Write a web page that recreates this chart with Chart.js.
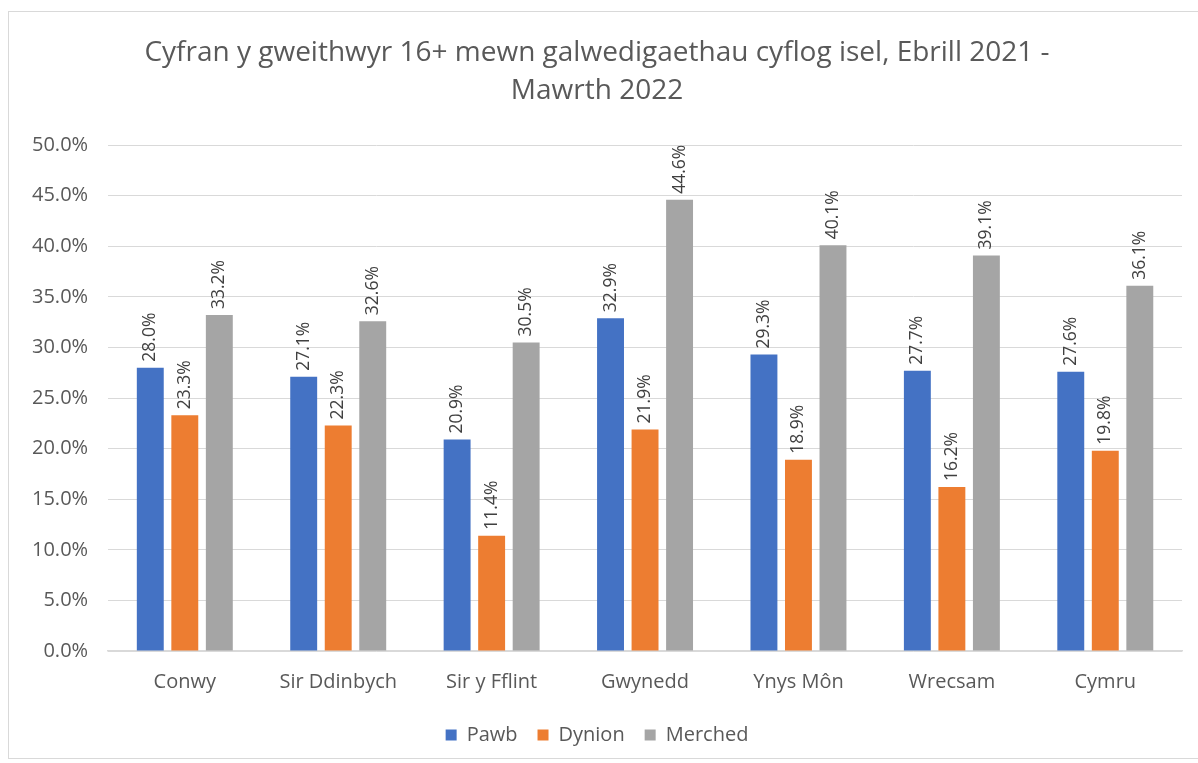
<!DOCTYPE html>
<html>
<head>
<meta charset="utf-8">
<script src="https://cdn.jsdelivr.net/npm/chart.js@4/dist/chart.umd.min.js"></script>
<style>
  html, body { margin: 0; padding: 0; background: #fff; overflow: hidden; }
  #wrap { position: absolute; left: 8px; top: 11px; width: 1195px; height: 748px; border: 1px solid #D9D9D9; box-sizing: border-box; }
  canvas { display: block; }
</style>
</head>
<body>
<div id="wrap"><canvas id="myChart"></canvas></div>
<script>
var categories = ['Conwy', 'Sir Ddinbych', 'Sir y Fflint', 'Gwynedd', 'Ynys Môn', 'Wrecsam', 'Cymru'];
var pawb = [28.0, 27.1, 20.9, 32.9, 29.3, 27.7, 27.6];
var dynion = [23.3, 22.3, 11.4, 21.9, 18.9, 16.2, 19.8];
var merched = [33.2, 32.6, 30.5, 44.6, 40.1, 39.1, 36.1];

var textColor = '#595959';
var fontName = "'Open Sans', 'Noto Sans', sans-serif";

// draws the rotated value above each bar
const barLabels = {
  id: 'barLabels',
  afterDatasetsDraw(chart) {
    const ctx = chart.ctx;
    ctx.save();
    ctx.fillStyle = '#404040';
    ctx.font = '17.5px ' + fontName;
    ctx.textAlign = 'left';
    ctx.textBaseline = 'middle';
    chart.data.datasets.forEach(function(ds, i) {
      const meta = chart.getDatasetMeta(i);
      meta.data.forEach(function(bar, j) {
        ctx.save();
        ctx.translate(bar.x, bar.y - 6);
        ctx.rotate(-Math.PI / 2);
        ctx.fillText(ds.data[j].toFixed(1) + '%', 0, 0);
        ctx.restore();
      });
    });
    ctx.restore();
  }
};

var data = {
  labels: categories,
  datasets: [{
    label: 'Pawb',
    data: pawb,
    backgroundColor: '#4472C4'
  },
  {
    label: 'Dynion',
    data: dynion,
    backgroundColor: '#ED7D31'
  },
  {
    label: 'Merched',
    data: merched,
    backgroundColor: '#A5A5A5'
  }]
};

const config = {
  type: 'bar',
  data: data,
  plugins: [barLabels],
  options: {
    responsive: true,
    maintainAspectRatio: false,
    animation: false,
    categoryPercentage: 0.675,
    barPercentage: 0.78,
    layout: { padding: { left: 3, right: 20, top: 0, bottom: 3 } },
    plugins: {
      title: {
        display: true,
        text: ['Cyfran y gweithwyr 16+ mewn galwedigaethau cyflog isel, Ebrill 2021 -', 'Mawrth 2022'],
        color: textColor,
        font: { size: 28, family: fontName, weight: 'normal', lineHeight: 1.36 },
        padding: { top: 22, bottom: 35 }
      },
      legend: {
        position: 'bottom',
        labels: {
          color: textColor,
          font: { size: 20, family: fontName },
          boxWidth: 11,
          boxHeight: 11,
          padding: 20
        }
      },
      tooltip: { enabled: false }
    },
    scales: {
      x: {
        grid: { display: false },
        border: { color: '#D9D9D9', width: 1.5 },
        ticks: { color: textColor, font: { size: 20, family: fontName }, padding: 11 }
      },
      y: {
        min: 0,
        max: 50,
        grid: { color: '#D9D9D9', drawTicks: false },
        border: { display: false },
        ticks: {
          stepSize: 5,
          color: textColor,
          font: { size: 20, family: fontName },
          padding: 20,
          callback: function(v) { return v.toFixed(1) + '%'; }
        }
      }
    }
  }
};

var ctx = document.getElementById('myChart').getContext('2d');
var myChart = new Chart(ctx, config);
</script>
</body>
</html>
